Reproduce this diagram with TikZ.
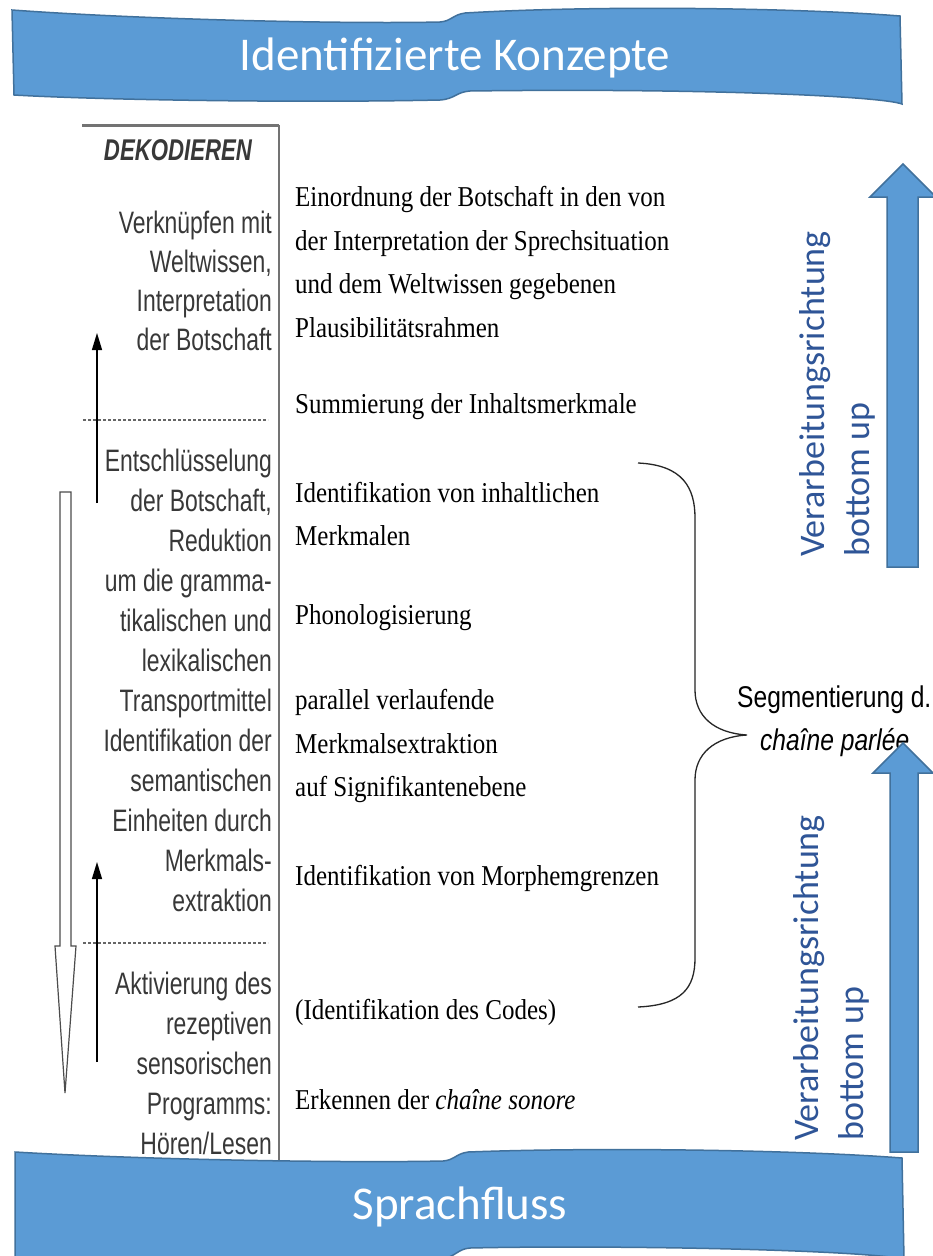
\documentclass[tikz,border=0pt]{standalone}
\usepackage{fontspec}
\setmainfont{Liberation Serif}
\newfontfamily\arialf{Liberation Sans}
\newfontfamily\calib{Carlito}
\usetikzlibrary{arrows.meta}
\definecolor{bluefill}{HTML}{5B9BD5}
\definecolor{blueedge}{HTML}{41719C}
\definecolor{bluetext}{HTML}{2F5597}
\begin{document}
\begin{tikzpicture}[x=1pt,y=-1pt,
  lefttxt/.style={font=\arialf\fontsize{31}{40}\selectfont, text=black!78, align=right, anchor=east, xscale=0.74, transform shape, inner sep=0pt},
  midtxt/.style={font=\fontsize{25}{37.8}\selectfont, align=left, anchor=west, inner sep=0pt, yscale=1.15, transform shape},
  segtxt/.style={font=\arialf\fontsize{30}{40}\selectfont, anchor=west, xscale=0.82, transform shape, inner sep=0pt},
  bluelbl/.style={font=\calib\fontsize{36}{45}\selectfont, text=bluetext, align=left, rotate=90, anchor=west, inner sep=0pt},
  bannertxt/.style={font=\calib\fontsize{47}{50}\selectfont, text=white, inner sep=0pt},
  banner/.style={fill=bluefill, draw=blueedge, line width=1.5pt},
  blockarrow/.style={fill=bluefill, draw=blueedge, line width=1.5pt, line join=miter},
  rule/.style={draw=black!55, line width=1.6pt},
  dashrule/.style={draw=black!60, line width=1.3pt, dash pattern=on 3pt off 2pt},
  thinarrow/.style={draw=black, line width=1.3pt, -{Triangle[length=17pt,width=10pt]}},
  brace/.style={draw=black!85, line width=1.3pt}
]
\useasboundingbox[fill=white] (0,0) rectangle (932,1256);

% --- box rules of the scanned table
\coordinate (topL) at (82,125);
\coordinate (topR) at (279,125);
\coordinate (vBot) at (279,1168);
\draw[rule, line width=3pt] (topL) -- (topR);
\draw[rule] (topR) -- (vBot);
\coordinate (d1a) at (83,420); \coordinate (d1b) at (268,420);
\coordinate (d2a) at (83,943); \coordinate (d2b) at (268,943);
\draw[dashrule] (d1a) -- (d1b);
\draw[dashrule] (d2a) -- (d2b);

% --- left column text
\node[lefttxt, font=\arialf\bfseries\itshape\fontsize{30}{40}\selectfont, anchor=center] (dek) at (178,150) {DEKODIEREN};
\node[lefttxt, font=\arialf\fontsize{31}{39}\selectfont] (l1) at (272,281) {Verknüpfen mit\\Weltwissen,\\Interpretation\\der Botschaft};
\node[lefttxt] (l2) at (272,680) {Entschlüsselung\\der Botschaft,\\Reduktion\\um die gramma-\\tikalischen und\\lexikalischen\\Transportmittel\\Identifikation der\\semantischen\\Einheiten durch\\Merkmals-\\extraktion};
\node[lefttxt] (l3) at (272,1063) {Aktivierung des\\rezeptiven\\sensorischen\\Programms:\\Hören/Lesen};

% --- arrows in left column
\coordinate (a1s) at (97,503); \coordinate (a1e) at (97,333);
\coordinate (a2s) at (97,1062); \coordinate (a2e) at (97,862);
\draw[thinarrow] (a1s) -- (a1e);
\draw[thinarrow] (a2s) -- (a2e);
\draw[draw=black!70, fill=white, line width=1.2pt, line join=miter]
  (60,492) -- (71,492) -- (71,946) -- (76,946) -- (65,1093) -- (55,946) -- (60,946) -- cycle;

% --- middle column text
\node[midtxt] (m1) at (295,262) {Einordnung der Botschaft in den von\\der Interpretation der Sprechsituation\\und dem Weltwissen gegebenen\\Plausibilitätsrahmen};
\node[midtxt] (m2) at (295,407) {Summierung der Inhaltsmerkmale};
\node[midtxt] (m3) at (295,514) {Identifikation von inhaltlichen\\Merkmalen};
\node[midtxt] (m4) at (295,618) {Phonologisierung};
\node[midtxt] (m5) at (295,746) {parallel verlaufende\\Merkmalsextraktion\\auf Signifikantenebene};
\node[midtxt] (m6) at (295,878) {Identifikation von Morphemgrenzen};
\node[midtxt] (m7) at (295,1012) {(Identifikation des Codes)};
\node[midtxt] (m8) at (295,1100) {Erkennen der \textit{chaîne sonore}};

% --- brace
\coordinate (bTop) at (638,463);
\coordinate (bMid) at (747,735);
\coordinate (bBot) at (638,1007);
\draw[brace] (bTop) .. controls (683,465) and (695,488) .. (695,518) -- (695,690)
  .. controls (695,716) and (714,733) .. (bMid)
  .. controls (714,737) and (695,754) .. (695,780) -- (695,958)
  .. controls (695,988) and (682,1005) .. (bBot);

\node[segtxt] (seg1) at (737,700) {Segmentierung d.};
\node[segtxt, font=\arialf\itshape\fontsize{30}{40}\selectfont] (seg2) at (760,743) {chaîne parlée};

% --- blue block arrows
\draw[blockarrow] (887,567) -- (887,197) -- (870,197) -- (903,164) -- (936,197) -- (918,197) -- (918,567) -- cycle;
\draw[blockarrow] (890,1152) -- (890,773) -- (873,773) -- (903,743) -- (933,773) -- (918,773) -- (918,1152) -- cycle;

\node[bluelbl] (v1) at (837,557) {Verarbeitungsrichtung\\bottom up};
\node[bluelbl] (v2) at (831,1141) {Verarbeitungsrichtung\\bottom up};

% --- banners
\draw[banner] (12,10) .. controls (150,20) and (350,24) .. (440,22)
  .. controls (452,21) and (452,15) .. (465,13)
  .. controls (600,5) and (800,8) .. (900,16)
  -- (902,104)
  .. controls (880,96) and (700,88) .. (470,91)
  .. controls (456,92) and (455,99) .. (440,100)
  .. controls (300,103) and (100,100) .. (14,95) -- cycle;
\node[bannertxt] (top) at (455,58) {Identifizierte Konzepte};

\draw[banner] (15,1152) .. controls (150,1160) and (350,1163) .. (443,1161)
  .. controls (455,1160) and (455,1154) .. (468,1152)
  .. controls (600,1147) and (800,1150) .. (902,1158)
  -- (904,1259)
  .. controls (850,1249) and (600,1245) .. (470,1248)
  .. controls (458,1249) and (456,1256) .. (443,1259) -- (15,1259) -- cycle;
\node[bannertxt] (bot) at (460,1207) {Sprachfluss};
\end{tikzpicture}
\end{document}
